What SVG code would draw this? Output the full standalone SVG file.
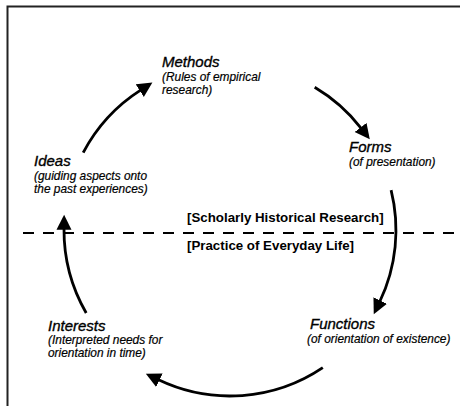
<svg xmlns="http://www.w3.org/2000/svg" width="460" height="406" viewBox="0 0 460 406">
<style>
.t{font-family:"Liberation Sans",Arial,sans-serif;font-style:italic;font-size:15px;fill:#000;stroke:#000;stroke-width:0.35}
.s{font-family:"Liberation Sans",Arial,sans-serif;font-style:italic;font-size:11.9px;fill:#000;stroke:#000;stroke-width:0.2}
.b{font-family:"Liberation Sans",Arial,sans-serif;font-weight:bold;font-size:13.3px;fill:#000}
.arc{fill:none;stroke:#000;stroke-width:2.8;marker-end:url(#ah)}
</style>
<defs>
<marker id="ah" markerUnits="userSpaceOnUse" viewBox="-1 -8 16 16" markerWidth="16" markerHeight="16" refX="0" refY="0" orient="auto">
<path d="M-1,-7.5 L14,0 L-1,7.5 Z" fill="#000"/>
</marker>
</defs>
<rect width="460" height="406" fill="#fff"/>
<g id="frame" stroke="#222" stroke-width="2" fill="none">
<path d="M7.5,406 V6.5 H460"/>
</g>
<g id="divider">
<line x1="23" y1="233" x2="460" y2="233" stroke="#000" stroke-width="2" stroke-dasharray="11 9"/>
</g>
<g id="connectors">
<path class="arc" d="M83.2,152.6 A166,166 0 0 1 140.6,90.1"/>
<path class="arc" d="M314.7,87.3 A166,166 0 0 1 361.2,128.3"/>
<path class="arc" d="M391.1,190.1 A166,166 0 0 1 379.8,301.5"/>
<path class="arc" d="M322.8,367.6 A166,166 0 0 1 158.5,379.8"/>
<path class="arc" d="M86.2,313 A166,166 0 0 1 64,228.8"/>
</g>
<g id="methods">
<text class="t" x="162" y="67">Methods</text>
<text class="s" x="162" y="81">(Rules of empirical</text>
<text class="s" x="162" y="94">research)</text>
</g>
<g id="forms">
<text class="t" x="349" y="152">Forms</text>
<text class="s" x="349" y="166">(of presentation)</text>
</g>
<g id="ideas">
<text class="t" x="34" y="166">Ideas</text>
<text class="s" x="34" y="180">(guiding aspects onto</text>
<text class="s" x="34" y="193">the past experiences)</text>
</g>
<g id="scholarly">
<text class="b" x="187" y="222">[Scholarly Historical Research]</text>
</g>
<g id="practice">
<text class="b" x="187" y="250">[Practice of Everyday Life]</text>
</g>
<g id="interests">
<text class="t" x="48" y="331">Interests</text>
<text class="s" x="48" y="344">(Interpreted needs for</text>
<text class="s" x="48" y="357">orientation in time)</text>
</g>
<g id="functions">
<text class="t" x="310" y="329">Functions</text>
<text class="s" x="307" y="343">(of orientation of existence)</text>
</g>
</svg>
